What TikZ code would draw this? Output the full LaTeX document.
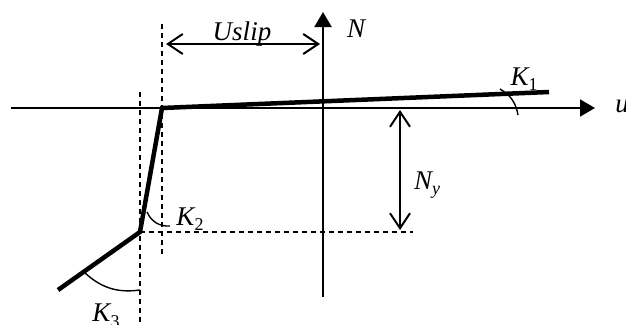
\documentclass[tikz,border=0pt]{standalone}
\usepackage{fontspec}
\setmainfont{Liberation Serif}
\usetikzlibrary{arrows.meta,positioning}
\newcommand{\lblsub}[2]{\textit{#1}\raisebox{-0.45ex}{\fontsize{18}{18}\selectfont #2}}

\begin{document}
\begin{tikzpicture}[x=1pt,y=-1pt,
  axis/.style={line width=2pt,-{Triangle[length=15pt,width=17pt]}},
  curve/.style={line width=4.5pt,line join=miter},
  guide/.style={line width=1.6pt,dash pattern=on 5pt off 4pt},
  dim/.style={line width=2pt,{Straight Barb[length=15pt,width=20pt]}-{Straight Barb[length=15pt,width=20pt]}},
  angarc/.style={line width=1.4pt},
  every node/.style={font=\fontsize{27}{31}\selectfont\itshape,inner sep=0pt}]
  \useasboundingbox (0,0) rectangle (626,324);
  % axes
  \coordinate (L) at (11,108);
  \coordinate (R) at (595,108);
  \coordinate (Bot) at (323,297);
  \coordinate (Top) at (323,12);
  % curve points
  \coordinate (Y) at (162,108);
  \coordinate (E) at (549,92);
  \coordinate (S) at (140,232);
  \coordinate (F) at (58,290);
  % guides
  \draw[guide] (162,24) coordinate (g1a) -- (162,255) coordinate (g1b);
  \draw[guide] (140,92) coordinate (g2a) -- (140,324) coordinate (g2b);
  \draw[guide] (S) -- (413,232) coordinate (g3b);
  \draw[axis] (L) -- (R);
  \draw[axis] (Bot) -- (Top);
  \draw[curve] (F) -- (S) -- (Y) -- (E);
  % dimensions
  \coordinate (d1a) at (166,44);
  \coordinate (d1b) at (320,44);
  \coordinate (d2a) at (400,110);
  \coordinate (d2b) at (400,230);
  \draw[dim] (d1a) -- (d1b);
  \draw[dim] (d2a) -- (d2b);
  % angle marks
  \coordinate (k1a) at (500,89);
  \coordinate (k1b) at (518,115);
  \coordinate (k2a) at (147,212);
  \coordinate (k2b) at (170,226);
  \coordinate (k3a) at (85,273);
  \coordinate (k3b) at (140,290);
  \draw[angarc] (k1a) to[bend left=25] (k1b);
  \draw[angarc] (k2a) to[bend right=35] (k2b);
  \draw[angarc] (k3a) to[bend right=25] (k3b);
  % labels
  \node (ulbl) at (622,106) {u};
  \node (nlbl) at (356,29) {N};
  \node (uslbl) at (242,34) {Uslip};
  \node (k1lbl) at (524,79) {\lblsub{K}{\upshape 1}};
  \node (k2lbl) at (190,219) {\lblsub{K}{\upshape 2}};
  \node (k3lbl) at (106,316) {\lblsub{K}{\upshape 3}};
  \node (nylbl) at (427,185) {\lblsub{N}{y}};
\end{tikzpicture}
\end{document}
